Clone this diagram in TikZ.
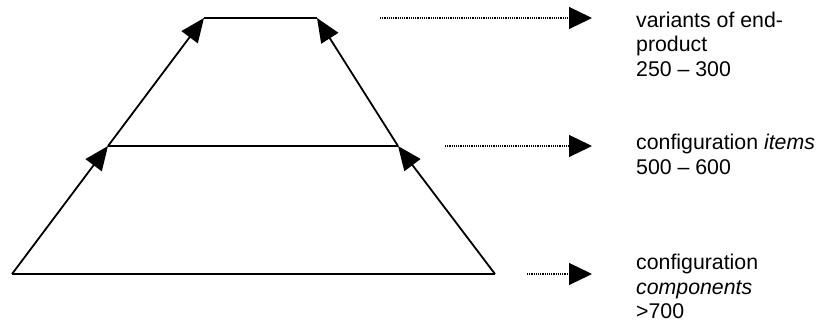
\documentclass[tikz,border=0pt]{standalone}
\usepackage{fontspec}
\setmainfont{Liberation Sans}
\usetikzlibrary{arrows.meta}
\tikzset{
  edge/.style={line width=1.8pt, -{Triangle[length=24pt,width=20pt]}},
  plain/.style={line width=1.8pt},
  dotarrow/.style={line width=1.2pt, dash pattern=on 1.2pt off 1pt, -{Triangle[length=23pt,width=22pt]}},
  label/.style={anchor=base west, inner sep=0pt, align=left, font=\fontsize{21.3}{24.3}\selectfont}
}
\begin{document}
\begin{tikzpicture}[x=1pt,y=-1pt]
\useasboundingbox (0,0) rectangle (817,322);
% corners
\coordinate (bl) at (12,274);
\coordinate (br) at (495,274);
\coordinate (ml) at (108,146);
\coordinate (mr) at (398,146);
\coordinate (tl) at (204,18);
\coordinate (tr) at (317,18);
% levels
\draw[plain] (bl) -- (br);
\draw[plain] (ml) -- (mr);
\draw[plain] (tl) -- (tr);
% sides with arrows
\draw[edge] (bl) -- (ml);
\draw[edge] (ml) -- (tl);
\draw[edge] (br) -- (mr);
\draw[edge] (mr) -- (tr);
% dotted arrows
\coordinate (d1s) at (380,18);
\coordinate (d1e) at (592,18);
\coordinate (d2s) at (445,146);
\coordinate (d2e) at (592,146);
\coordinate (d3s) at (527,274);
\coordinate (d3e) at (592,274);
\draw[dotarrow] (d1s) -- (d1e);
\draw[dotarrow] (d2s) -- (d2e);
\draw[dotarrow] (d3s) -- (d3e);
% labels (anchored at the baseline of the last line)
\node[label] (t1) at (636,76) {variants of end-\\product\\250 -- 300};
\node[label] (t2) at (636,174) {configuration \textit{items}\\500 -- 600};
\node[label] (t3) at (636,318.5) {configuration\\\textit{components}\\>700};
\end{tikzpicture}
\end{document}
